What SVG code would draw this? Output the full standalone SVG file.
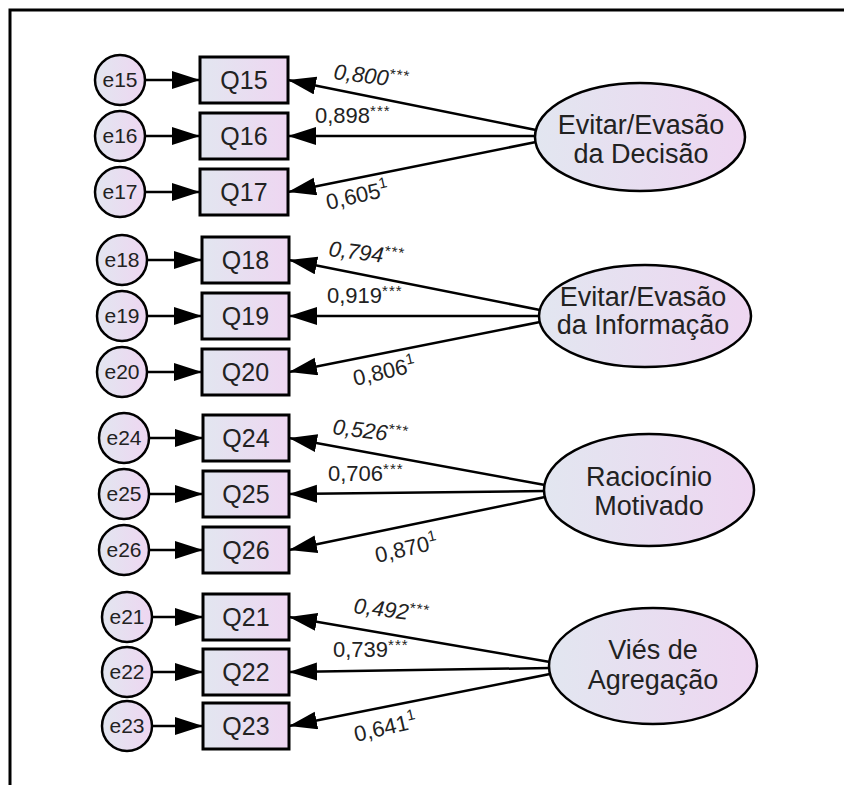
<svg xmlns="http://www.w3.org/2000/svg" width="844" height="785" viewBox="0 0 844 785">
  <defs>
    <linearGradient id="fillGrad" x1="0" y1="0" x2="1" y2="0">
      <stop offset="0" stop-color="#e2e6f0"/>
      <stop offset="1" stop-color="#eed6f1"/>
    </linearGradient>
    <marker id="head" markerUnits="userSpaceOnUse" markerWidth="30" markerHeight="20" refX="28" refY="9" orient="auto">
      <path d="M0,0 L28,9 L0,18 Z" fill="#000"/>
    </marker>
    <style>
      .err { fill: url(#fillGrad); stroke: #000; stroke-width: 2.5; }
      .obs { fill: url(#fillGrad); stroke: #000; stroke-width: 3; }
      .lat { fill: url(#fillGrad); stroke: #000; stroke-width: 2.5; }
      .edge { stroke: #000; stroke-width: 2.5; fill: none; marker-end: url(#head); }
      .frame { stroke: #000; stroke-width: 3; fill: none; }
      text { font-family: "Liberation Sans", Arial, sans-serif; fill: #222; }
      .et { font-size: 21px; text-anchor: middle; }
      .qt { font-size: 25px; text-anchor: middle; }
      .lt { font-size: 27px; text-anchor: middle; }
      .coef { font-size: 22px; }
      .it { font-style: italic; }
      .sup { font-size: 15px; letter-spacing: 1px; }
    </style>
  </defs>

  <!-- page frame -->
  <path class="frame" d="M10,785 L10,10 L844,10"/>

  <!-- connectors -->
  <g id="connectors">
    <!-- error terms to indicators -->
    <line class="edge" x1="145" y1="80" x2="200" y2="80"/>
    <line class="edge" x1="145" y1="136" x2="200" y2="136"/>
    <line class="edge" x1="145" y1="192" x2="200" y2="192"/>
    <line class="edge" x1="147" y1="260" x2="202" y2="260"/>
    <line class="edge" x1="147" y1="316" x2="202" y2="316"/>
    <line class="edge" x1="147" y1="372" x2="202" y2="372"/>
    <line class="edge" x1="149" y1="438" x2="203" y2="438"/>
    <line class="edge" x1="149" y1="494" x2="203" y2="494"/>
    <line class="edge" x1="149" y1="550" x2="203" y2="550"/>
    <line class="edge" x1="152" y1="617" x2="203" y2="617"/>
    <line class="edge" x1="152" y1="672" x2="203" y2="672"/>
    <line class="edge" x1="152" y1="726" x2="203" y2="726"/>
    <!-- latent factors to indicators -->
    <line class="edge" x1="536" y1="130" x2="288" y2="80"/>
    <line class="edge" x1="536" y1="136" x2="288" y2="136"/>
    <line class="edge" x1="536" y1="142" x2="288" y2="192"/>
    <line class="edge" x1="540" y1="310" x2="289" y2="260"/>
    <line class="edge" x1="540" y1="316" x2="289" y2="316"/>
    <line class="edge" x1="540" y1="322" x2="289" y2="372"/>
    <line class="edge" x1="545" y1="485" x2="289" y2="438"/>
    <line class="edge" x1="545" y1="491" x2="289" y2="494"/>
    <line class="edge" x1="545" y1="497" x2="289" y2="550"/>
    <line class="edge" x1="550" y1="662" x2="289" y2="617"/>
    <line class="edge" x1="550" y1="668" x2="289" y2="672"/>
    <line class="edge" x1="550" y1="674" x2="289" y2="726"/>
  </g>

  <!-- loading labels -->
  <g id="loadings">
    <text class="coef it" x="333" y="79" transform="rotate(7 333 79)">0,800<tspan class="sup" dy="-7">***</tspan></text>
    <text class="coef" x="315" y="123">0,898<tspan class="sup" dy="-7">***</tspan></text>
    <text class="coef" x="328" y="210" transform="rotate(-13 328 210)">0,605<tspan class="sup" dy="-9">1</tspan></text>

    <text class="coef it" x="328" y="256" transform="rotate(7 328 256)">0,794<tspan class="sup" dy="-7">***</tspan></text>
    <text class="coef" x="327" y="303">0,919<tspan class="sup" dy="-7">***</tspan></text>
    <text class="coef" x="355" y="386" transform="rotate(-13 355 386)">0,806<tspan class="sup" dy="-9">1</tspan></text>

    <text class="coef it" x="332" y="434" transform="rotate(7 332 434)">0,526<tspan class="sup" dy="-7">***</tspan></text>
    <text class="coef" x="328" y="481">0,706<tspan class="sup" dy="-7">***</tspan></text>
    <text class="coef" x="377" y="563" transform="rotate(-13 377 563)">0,870<tspan class="sup" dy="-9">1</tspan></text>

    <text class="coef it" x="353" y="613" transform="rotate(7 353 613)">0,492<tspan class="sup" dy="-7">***</tspan></text>
    <text class="coef" x="333" y="657">0,739<tspan class="sup" dy="-7">***</tspan></text>
    <text class="coef" x="356" y="742" transform="rotate(-13 356 742)">0,641<tspan class="sup" dy="-9">1</tspan></text>
  </g>

  <!-- error terms -->
  <g id="e15"><circle class="err" cx="120" cy="80" r="25"/><text class="et" x="120" y="87">e15</text></g>
  <g id="e16"><circle class="err" cx="120" cy="136" r="25"/><text class="et" x="120" y="143">e16</text></g>
  <g id="e17"><circle class="err" cx="120" cy="192" r="25"/><text class="et" x="120" y="199">e17</text></g>
  <g id="e18"><circle class="err" cx="122" cy="260" r="25"/><text class="et" x="122" y="267">e18</text></g>
  <g id="e19"><circle class="err" cx="122" cy="316" r="25"/><text class="et" x="122" y="323">e19</text></g>
  <g id="e20"><circle class="err" cx="122" cy="372" r="25"/><text class="et" x="122" y="379">e20</text></g>
  <g id="e24"><circle class="err" cx="124" cy="438" r="25"/><text class="et" x="124" y="445">e24</text></g>
  <g id="e25"><circle class="err" cx="124" cy="494" r="25"/><text class="et" x="124" y="501">e25</text></g>
  <g id="e26"><circle class="err" cx="124" cy="550" r="25"/><text class="et" x="124" y="557">e26</text></g>
  <g id="e21"><circle class="err" cx="127" cy="617" r="25"/><text class="et" x="127" y="624">e21</text></g>
  <g id="e22"><circle class="err" cx="127" cy="672" r="25"/><text class="et" x="127" y="679">e22</text></g>
  <g id="e23"><circle class="err" cx="127" cy="726" r="25"/><text class="et" x="127" y="733">e23</text></g>

  <!-- observed indicators -->
  <g id="Q15"><rect class="obs" x="200" y="57" width="88" height="46"/><text class="qt" x="244" y="89">Q15</text></g>
  <g id="Q16"><rect class="obs" x="200" y="113" width="88" height="46"/><text class="qt" x="244" y="145">Q16</text></g>
  <g id="Q17"><rect class="obs" x="200" y="169" width="88" height="46"/><text class="qt" x="244" y="201">Q17</text></g>
  <g id="Q18"><rect class="obs" x="202" y="237" width="87" height="46"/><text class="qt" x="245.5" y="269">Q18</text></g>
  <g id="Q19"><rect class="obs" x="202" y="293" width="87" height="46"/><text class="qt" x="245.5" y="325">Q19</text></g>
  <g id="Q20"><rect class="obs" x="202" y="349" width="87" height="46"/><text class="qt" x="245.5" y="381">Q20</text></g>
  <g id="Q24"><rect class="obs" x="203" y="415" width="86" height="46"/><text class="qt" x="246" y="447">Q24</text></g>
  <g id="Q25"><rect class="obs" x="203" y="471" width="86" height="46"/><text class="qt" x="246" y="503">Q25</text></g>
  <g id="Q26"><rect class="obs" x="203" y="527" width="86" height="46"/><text class="qt" x="246" y="559">Q26</text></g>
  <g id="Q21"><rect class="obs" x="203" y="594" width="86" height="46"/><text class="qt" x="246" y="626">Q21</text></g>
  <g id="Q22"><rect class="obs" x="203" y="649" width="86" height="46"/><text class="qt" x="246" y="681">Q22</text></g>
  <g id="Q23"><rect class="obs" x="203" y="703" width="86" height="46"/><text class="qt" x="246" y="735">Q23</text></g>

  <!-- latent factors -->
  <g id="F_decisao">
    <ellipse class="lat" cx="640" cy="137" rx="105" ry="54"/>
    <text class="lt" x="641" y="134">Evitar/Evasão</text>
    <text class="lt" x="641" y="163">da Decisão</text>
  </g>
  <g id="F_informacao">
    <ellipse class="lat" cx="645" cy="316" rx="106" ry="51"/>
    <text class="lt" x="643" y="306">Evitar/Evasão</text>
    <text class="lt" x="643" y="334">da Informação</text>
  </g>
  <g id="F_raciocinio">
    <ellipse class="lat" cx="649" cy="490" rx="105" ry="56"/>
    <text class="lt" x="649" y="486">Raciocínio</text>
    <text class="lt" x="649" y="515">Motivado</text>
  </g>
  <g id="F_agregacao">
    <ellipse class="lat" cx="653" cy="666" rx="104" ry="58"/>
    <text class="lt" x="653" y="659">Viés de</text>
    <text class="lt" x="653" y="689">Agregação</text>
  </g>
</svg>
